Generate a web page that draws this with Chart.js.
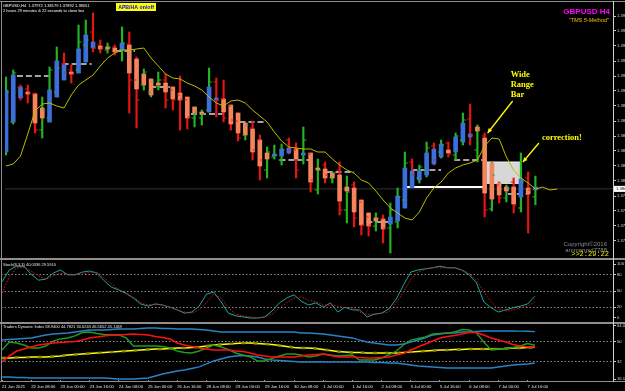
<!DOCTYPE html>
<html>
<head>
<meta charset="utf-8">
<title>GBPUSD H4</title>
<script src="https://cdn.jsdelivr.net/npm/chart.js"></script>
<style>
  html, body { margin: 0; padding: 0; background: #000; }
  #wrap { position: relative; width: 625px; height: 391px; overflow: hidden; background: #000; }
  #wrap canvas { position: absolute; left: 0; }
  .rule { position: absolute; background: #8e8e8e; }
</style>
</head>
<body>
<div id="wrap">
  <canvas id="mainChart" width="650" height="265" style="top:0"></canvas>
  <canvas id="stochChart" width="650" height="70" style="top:255px"></canvas>
  <canvas id="tdiChart" width="650" height="72" style="top:319px"></canvas>
  <div class="rule" style="left:0;top:1px;width:625px;height:1px"></div>
  <div class="rule" style="left:0;top:258px;width:625px;height:2px"></div>
  <div class="rule" style="left:0;top:322px;width:625px;height:2px"></div>
  <div class="rule" style="left:0;top:381px;width:625px;height:1px"></div>
  <div class="rule" style="left:1px;top:1px;width:1px;height:381px"></div>
  <div class="rule" style="left:613px;top:1px;width:1px;height:381px;background:#cfcfcf"></div>
</div>
<script>
// time axis, one label every 4 bars (H4)
const xLabels = ['21 Jun 2021', '22 Jun 08:00', '23 Jun 00:00', '23 Jun 16:00', '24 Jun 08:00',
  '25 Jun 00:00', '25 Jun 16:00', '28 Jun 08:00', '29 Jun 00:00', '29 Jun 16:00', '30 Jun 08:00',
  '1 Jul 00:00', '1 Jul 16:00', '2 Jul 08:00', '5 Jul 00:00', '5 Jul 16:00', '6 Jul 08:00',
  '7 Jul 00:00', '7 Jul 16:00'];
const xLabelStep = 4;

const priceTicks = [1.3978, 1.3963, 1.3948, 1.3933, 1.3918, 1.3903, 1.3888, 1.3873,
  1.3858, 1.3843, 1.3828, 1.3813, 1.3798, 1.3783, 1.3768, 1.3753];

// plain OHLC bars
const high = [1.3917, 1.3924, 1.3909, 1.3909, 1.3901, 1.3897, 1.3927, 1.3947, 1.3941, 1.3929,
  1.3969, 1.3974, 1.3981, 1.3954, 1.3951, 1.3949, 1.3967, 1.3962, 1.3937, 1.3925,
  1.3915, 1.3922, 1.3920, 1.3907, 1.3918, 1.3897, 1.3887, 1.3884, 1.3926, 1.3916,
  1.3914, 1.3889, 1.3881, 1.3871, 1.3873, 1.3859, 1.3847, 1.3849, 1.3850, 1.3856,
  1.3851, 1.3867, 1.3841, 1.3835, 1.3832, 1.3822, 1.3832, 1.3818, 1.3812, 1.3794,
  1.3781, 1.3781, 1.3779, 1.3791, 1.3806, 1.3842, 1.3835, 1.3829, 1.3852, 1.3851,
  1.3854, 1.3852, 1.3861, 1.3881, 1.3890, 1.3869, 1.3861, 1.3832, 1.3812, 1.3809,
  1.3816, 1.3841, 1.3822, 1.38179];
const low = [1.3839, 1.3870, 1.3894, 1.3891, 1.3861, 1.3856, 1.3872, 1.3897, 1.3914, 1.3911,
  1.3921, 1.3932, 1.3942, 1.3941, 1.3941, 1.3939, 1.3933, 1.3881, 1.3866, 1.3904,
  1.3897, 1.3904, 1.3886, 1.3884, 1.3864, 1.3865, 1.3867, 1.3869, 1.3882, 1.3877,
  1.3872, 1.3864, 1.3853, 1.3854, 1.3834, 1.3814, 1.3816, 1.3835, 1.3829, 1.3840,
  1.3816, 1.3830, 1.3802, 1.3800, 1.3811, 1.3811, 1.3779, 1.3771, 1.3767, 1.3759,
  1.3758, 1.3763, 1.3751, 1.3741, 1.3766, 1.3786, 1.3807, 1.3811, 1.3817, 1.3829,
  1.3836, 1.3837, 1.3834, 1.3849, 1.3849, 1.3832, 1.3777, 1.3783, 1.3791, 1.3792,
  1.3781, 1.3782, 1.3761, 1.37892];
const open = [1.3844, 1.3872, 1.3907, 1.3905, 1.3900, 1.3864, 1.3876, 1.3902, 1.3930, 1.3924,
  1.3924, 1.3949, 1.3962, 1.3949, 1.3944, 1.3947, 1.3944, 1.3950, 1.3914, 1.3909,
  1.3902, 1.3908, 1.3914, 1.3904, 1.3899, 1.3894, 1.3876, 1.3876, 1.3884, 1.3912,
  1.3895, 1.3888, 1.3873, 1.3859, 1.3866, 1.3854, 1.3824, 1.3837, 1.3834, 1.3854,
  1.3844, 1.3834, 1.3840, 1.3804, 1.3829, 1.3816, 1.3824, 1.3784, 1.3809, 1.3792,
  1.3777, 1.3768, 1.3775, 1.3766, 1.3772, 1.3794, 1.3832, 1.3816, 1.3824, 1.3848,
  1.3842, 1.3851, 1.3839, 1.3854, 1.3875, 1.3844, 1.3858, 1.3785, 1.3809, 1.3796,
  1.3812, 1.3786, 1.3816, 1.37972];
const close = [1.3902, 1.3921, 1.3897, 1.3901, 1.3864, 1.3884, 1.3924, 1.3926, 1.3921, 1.3920,
  1.3952, 1.3954, 1.3946, 1.3946, 1.3947, 1.3942, 1.3951, 1.3914, 1.3894, 1.3922,
  1.3912, 1.3914, 1.3894, 1.3894, 1.3895, 1.3877, 1.3882, 1.3880, 1.3912, 1.3894,
  1.3876, 1.3874, 1.3856, 1.3869, 1.3844, 1.3834, 1.3842, 1.3839, 1.3844, 1.3844,
  1.3824, 1.3854, 1.3814, 1.3824, 1.3819, 1.3821, 1.3784, 1.3802, 1.3776, 1.3769,
  1.3769, 1.3776, 1.3766, 1.3784, 1.3797, 1.3831, 1.3819, 1.3827, 1.3846, 1.3834,
  1.3849, 1.3840, 1.3858, 1.3874, 1.3859, 1.3864, 1.3784, 1.3819, 1.3796, 1.3806,
  1.3789, 1.3812, 1.3804, 1.38051];

// heiken ashi bodies
const haOpen = [1.3842, 1.3872, 1.3896, 1.3902, 1.3900, 1.3886, 1.3872, 1.3897, 1.3914, 1.3922,
  1.3921, 1.3932, 1.3946, 1.3948, 1.3947, 1.3946, 1.3944, 1.3949, 1.3935, 1.3920,
  1.3915, 1.3911, 1.3911, 1.3907, 1.3901, 1.3897, 1.3887, 1.3882, 1.3882, 1.3894,
  1.3895, 1.3889, 1.3881, 1.3871, 1.3865, 1.3854, 1.3841, 1.3838, 1.3838, 1.3841,
  1.3845, 1.3839, 1.3841, 1.3826, 1.3825, 1.3821, 1.3819, 1.3807, 1.3806, 1.3794,
  1.3781, 1.3776, 1.3775, 1.3770, 1.3773, 1.3786, 1.3806, 1.3814, 1.3819, 1.3830,
  1.3837, 1.3844, 1.3842, 1.3852, 1.3857, 1.3867, 1.3856, 1.3831, 1.3811, 1.3807,
  1.3807, 1.3797, 1.3806, 1.3804];
const haClose = [1.3904, 1.3919, 1.3907, 1.3900, 1.3871, 1.3876, 1.3904, 1.3933, 1.3929, 1.3920,
  1.3945, 1.3959, 1.3952, 1.3945, 1.3945, 1.3942, 1.3951, 1.3921, 1.3905, 1.3909,
  1.3899, 1.3909, 1.3902, 1.3895, 1.3894, 1.3876, 1.3881, 1.3880, 1.3907, 1.3896,
  1.3882, 1.3870, 1.3861, 1.3859, 1.3842, 1.3828, 1.3835, 1.3840, 1.3845, 1.3846,
  1.3835, 1.3841, 1.3812, 1.3824, 1.3816, 1.3816, 1.3793, 1.3803, 1.3782, 1.3769,
  1.3768, 1.3773, 1.3765, 1.3777, 1.3798, 1.3826, 1.3823, 1.3823, 1.3841, 1.3845,
  1.3850, 1.3841, 1.3857, 1.3871, 1.3860, 1.3863, 1.3801, 1.3795, 1.3799, 1.3803,
  1.3790, 1.3815, 1.3800, 1.3807];

// shifted moving average (runs 3 bars past the last candle)
const maLine = [1.3828, 1.3830, 1.3838, 1.3860, 1.3883, 1.3890, 1.3891, 1.3888, 1.3886, 1.3899,
  1.3909, 1.3914, 1.3919, 1.3928, 1.3936, 1.3941, 1.3944, 1.3944, 1.3945, 1.3946,
  1.3936, 1.3928, 1.3920, 1.3916, 1.3915, 1.3911, 1.3908, 1.3904, 1.3897, 1.3891,
  1.3888, 1.3893, 1.3894, 1.3891, 1.3884, 1.3878, 1.3872, 1.3862, 1.3853, 1.3847,
  1.3846, 1.3845, 1.3845, 1.3842, 1.3842, 1.3835, 1.3829, 1.3824, 1.3821, 1.3814,
  1.3811, 1.3803, 1.3794, 1.3786, 1.3781, 1.3776, 1.3774, 1.3782, 1.3796, 1.3806,
  1.3812, 1.3821, 1.3826, 1.3829, 1.3831, 1.3834, 1.3848, 1.3856, 1.3855, 1.3837,
  1.3824, 1.3816, 1.3811, 1.3805, 1.3807, 1.3804, 1.3805];

// dashed grey levels: [from bar, to bar, price]
const pivotSegments = [[1.5, 5.9, 1.3918], [7.8, 11.8, 1.3930], [15.1, 17.8, 1.3943],
  [19.9, 22.6, 1.3907], [25.5, 29.9, 1.3880], [32.2, 35.8, 1.3872], [37.7, 41.8, 1.3834],
  [44.2, 48.0, 1.3822], [49.7, 52.7, 1.3772], [55.9, 60.0, 1.3824], [61.8, 65.8, 1.3834],
  [69.2, 71.9, 1.3800]];
const whiteLevel = [55.2, 66.2, 1.3807];
const rangeBox = [66.2, 71.0, 1.3832, 1.3810];

// Stochastic
const stochMain = [67, 89, 96, 96, 81, 70, 72, 83, 89, 80, 80, 85, 87, 83, 69, 57, 52, 46, 37, 26,
  22, 26, 24, 20, 15, 9, 11, 22, 44, 48, 30, 9, 4, 2, 0, 0, 2, 13, 28, 37,
  43, 31, 24, 28, 20, 28, 11, 20, 15, 15, 2, 7, 9, 17, 35, 61, 85, 89, 91, 93,
  96, 93, 93, 89, 80, 65, 30, 19, 11, 15, 19, 22, 26, 40];
const stochSignal = [46, 76, 93, 94, 87, 78, 72, 78, 83, 81, 80, 81, 85, 85, 74, 63, 52, 44, 39, 28,
  24, 26, 24, 20, 15, 11, 9, 15, 28, 44, 37, 19, 7, 4, 2, 0, 2, 7, 19, 28,
  37, 39, 33, 30, 24, 24, 22, 19, 19, 11, 7, 7, 9, 11, 28, 48, 72, 85, 91, 93,
  93, 93, 93, 89, 83, 70, 48, 30, 17, 13, 15, 19, 22, 29.6];
const stochTicks = [100, 80, 50, 20, 0];
const stochLevels = [80, 50, 20];

// Traders Dynamic Index
const tdiUpper = [51.3, 51.8, 52.3, 52.7, 53.2, 54.5, 55.9, 56.8, 57.2, 57.7,
  58.6, 59.5, 60.4, 60.4, 60.4, 60.8, 61.3, 61.3, 61.3, 61.7,
  62.2, 62.2, 61.7, 61.7, 61.3, 61.3, 61.3, 60.8, 60.4, 59.5,
  58.6, 58.6, 58.6, 58.6, 58.6, 58.6, 58.6, 58.6, 58.6, 58.6,
  58.6, 57.7, 57.7, 57.2, 56.8, 55.9, 55.0, 54.1, 53.2, 51.3,
  49.5, 48.6, 47.7, 46.8, 46.8, 47.7, 49.5, 51.3, 53.2, 55.9,
  56.8, 57.7, 57.7, 58.6, 58.6, 59.0, 59.5, 59.5, 59.5, 59.5,
  59.5, 59.4, 59.2, 58.9];
const tdiLower = [17.9, 17.9, 17.5, 17.5, 17.0, 17.0, 17.0, 17.0, 17.0, 17.0,
  17.0, 17.0, 17.0, 17.0, 17.0, 16.5, 16.1, 16.1, 16.1, 16.5,
  17.0, 18.8, 20.6, 22.0, 23.3, 24.2, 25.6, 27.0, 29.7, 32.4,
  34.2, 36.0, 36.9, 37.3, 36.9, 36.0, 34.2, 33.3, 32.9, 32.4,
  31.9, 31.5, 31.5, 31.5, 31.5, 31.5, 31.5, 31.5, 31.5, 31.5,
  31.5, 31.0, 31.0, 30.6, 30.6, 29.7, 28.8, 27.9, 27.4, 27.0,
  26.5, 26.1, 26.1, 26.1, 26.1, 26.1, 26.1, 26.1, 27.0, 27.9,
  28.8, 29.2, 29.7, 30.6];
const tdiMiddle = [35.1, 35.1, 35.5, 35.5, 36.0, 36.0, 36.0, 36.4, 36.9, 37.8,
  38.2, 38.7, 39.1, 39.6, 40.1, 40.5, 41.0, 41.4, 41.9, 42.3,
  42.8, 43.2, 43.2, 43.7, 44.1, 44.1, 44.6, 45.0, 45.9, 46.8,
  47.3, 47.7, 48.2, 48.6, 48.6, 48.2, 47.7, 47.3, 46.4, 45.5,
  44.6, 44.1, 44.1, 43.7, 42.8, 41.9, 41.0, 40.5, 40.1, 40.1,
  39.6, 39.6, 39.6, 39.6, 39.6, 40.1, 40.5, 41.0, 41.4, 41.9,
  42.3, 42.3, 42.8, 42.8, 43.2, 43.2, 43.2, 43.2, 43.2, 43.7,
  44.1, 44.1, 44.6, 44.8];
const tdiSignal = [31.5, 36.9, 41.4, 43.2, 45.0, 46.8, 47.7, 48.6, 49.1, 49.5,
  50.0, 51.3, 53.2, 54.1, 55.0, 55.9, 55.9, 56.3, 56.8, 56.3,
  55.9, 54.5, 53.6, 52.3, 48.6, 46.8, 45.5, 44.1, 43.2, 42.3,
  42.3, 42.3, 41.4, 41.0, 39.6, 37.8, 36.9, 36.0, 36.0, 36.0,
  36.0, 36.9, 37.8, 38.2, 38.7, 37.3, 36.0, 36.0, 36.0, 35.5,
  35.1, 35.1, 35.5, 36.0, 37.8, 39.1, 42.3, 45.0, 47.7, 50.4,
  53.2, 54.5, 55.4, 56.8, 58.1, 58.1, 55.9, 53.2, 51.3, 49.5,
  47.3, 45.9, 45.0, 45.1];
const tdiRsi = [42.3, 49.5, 48.6, 46.8, 44.1, 44.1, 45.9, 50.4, 52.3, 53.2,
  55.0, 58.1, 58.6, 57.2, 56.3, 55.9, 55.9, 53.2, 45.9, 45.9,
  45.9, 45.9, 45.5, 44.1, 41.4, 40.1, 39.6, 41.4, 44.1, 46.8,
  45.0, 42.8, 39.6, 37.8, 36.0, 32.4, 32.4, 34.7, 36.9, 38.7,
  38.7, 37.8, 36.0, 36.9, 38.7, 37.8, 36.9, 37.3, 37.8, 33.3,
  33.3, 33.3, 35.1, 37.8, 41.4, 46.8, 51.3, 52.7, 54.1, 56.8,
  57.2, 57.7, 58.6, 60.8, 60.4, 57.7, 49.5, 42.3, 43.2, 43.7,
  44.6, 45.9, 48.2, 46.6];
const tdiTicks = [64.0, 50, 32, 16.1];
const tdiLevels = [50, 32];

const xMin = -0.14, xMax = 83.7;
const sans = '"Liberation Sans", Arial, sans-serif';
const serif = '"Liberation Serif", "Times New Roman", serif';

const pts = arr => arr.map((v, i) => ({ x: i, y: v }));
const flat = { pointRadius: 0, pointHoverRadius: 0 };
const common = {
  responsive: false, animation: false, devicePixelRatio: 1, events: [],
  plugins: { legend: { display: false }, tooltip: { enabled: false } }
};
const fixWidth = s => { s.width = 37; };

function arrow(ctx, x1, y1, x2, y2) {
  const a = Math.atan2(y2 - y1, x2 - x1), h = 5;
  ctx.beginPath(); ctx.moveTo(x1, y1); ctx.lineTo(x2, y2); ctx.stroke();
  ctx.beginPath(); ctx.moveTo(x2, y2);
  ctx.lineTo(x2 - h * Math.cos(a - 0.45), y2 - h * Math.sin(a - 0.45));
  ctx.lineTo(x2 - h * Math.cos(a + 0.45), y2 - h * Math.sin(a + 0.45));
  ctx.closePath(); ctx.fill();
}

const mainDecor = {
  id: 'mainDecor',
  afterDraw(chart) {
    const { ctx, chartArea, scales: { x, y } } = chart;
    ctx.save();
    // header
    ctx.textBaseline = 'middle';
    ctx.fillStyle = '#ffffff';
    ctx.font = '4px ' + sans;
    ctx.fillText('GBPUSD,H4  1.37972 1.38179 1.37892 1.38051', 3, 5.5);
    ctx.fillText('2 hours 29 minutes & 22 seconds to close bar', 3, 11);
    ctx.fillStyle = '#ffff00';
    ctx.fillRect(116, 3, 40, 8);
    ctx.fillStyle = '#0000ff';
    ctx.font = 'bold 5.2px ' + sans;
    ctx.textAlign = 'center';
    ctx.fillText('APB/HA on/off', 136, 7.2);
    ctx.textAlign = 'right';
    ctx.fillStyle = '#ff00ff';
    ctx.font = 'bold 8px ' + sans;
    ctx.fillText('GBPUSD H4', 610, 11.5);
    ctx.fillStyle = '#e8c000';
    ctx.font = 'italic 5.5px ' + sans;
    ctx.fillText('"TMS 5-Method"', 609, 20.5);
    ctx.fillStyle = '#8a8a8a';
    ctx.font = '6px ' + sans;
    ctx.fillText('Copyright\u00a92016', 607, 244);
    ctx.fillText('ammarusd7788', 607, 250);
    ctx.fillStyle = '#e6e600';
    ctx.font = '7px "Liberation Mono", monospace';
    ctx.fillText('>>2:29:22', 609, 254.5);
    ctx.textAlign = 'left';

    // annotations
    ctx.strokeStyle = '#ffff00';
    ctx.fillStyle = '#ffff00';
    ctx.lineWidth = 1.3;
    const t1x = x.getPixelForValue(66) + 3, t1y = y.getPixelForValue(high[66]);
    arrow(ctx, t1x + 25, t1y - 32, t1x, t1y);
    const t2x = x.getPixelForValue(rangeBox[1]) + 2, t2y = y.getPixelForValue(rangeBox[2]);
    arrow(ctx, t2x + 16, t2y - 19, t2x, t2y);
    ctx.font = 'bold 8.5px ' + serif;
    ctx.textBaseline = 'alphabetic';
    ['Wide', 'Range', 'Bar'].forEach((w, k) => ctx.fillText(w, t1x + 23, t1y - 56 + k * 10));
    ctx.fillText('correction!', t2x + 19, t2y - 22);

    // current price box
    const last = close[close.length - 1];
    const py = y.getPixelForValue(last);
    ctx.fillStyle = '#ffffff';
    ctx.fillRect(chartArea.right + 1, py - 3, 40, 6);
    ctx.fillStyle = '#000000';
    ctx.font = '4.2px ' + sans;
    ctx.textBaseline = 'middle';
    ctx.fillText(last.toFixed(5), chartArea.right + 3, py + 0.3);
    ctx.restore();
  }
};

const panelTitle = (text, dy) => ({
  id: 'panelTitle',
  afterDraw(chart) {
    const { ctx, chartArea } = chart;
    ctx.save();
    ctx.font = '4px ' + sans;
    ctx.fillStyle = '#e6e6e6';
    ctx.textBaseline = 'middle';
    ctx.fillText(text, chartArea.left + 2, chartArea.top + dy);
    ctx.restore();
  }
});

const wickColor = high.map((_, i) => close[i] >= open[i] ? '#22b422' : '#e61414');
const bodyColor = haOpen.map((o, i) => haClose[i] >= o ? '#3d6fda' : '#f5845c');

const mainSets = [
  { type: 'line', label: 'ma', data: pts(maLine), borderColor: '#bcbc00', borderWidth: 1, ...flat, order: 1 },
  { type: 'line', label: 'open', data: open.map((v, i) => ({ x: i - 0.22, y: v })), showLine: false,
    pointStyle: 'line', pointRadius: 1.4, pointBorderWidth: 1, pointBorderColor: wickColor, order: 3 },
  { type: 'line', label: 'close', data: close.map((v, i) => ({ x: i + 0.22, y: v })), showLine: false,
    pointStyle: 'line', pointRadius: 1.4, pointBorderWidth: 1, pointBorderColor: wickColor, order: 3 },
  { type: 'bar', label: 'body', data: haOpen.map((o, i) => ({ x: i, y: [o, haClose[i]] })),
    backgroundColor: bodyColor, barThickness: 4, minBarLength: 1.5, grouped: false, order: 4 },
  { type: 'bar', label: 'wick', data: high.map((h, i) => ({ x: i, y: [low[i], h] })),
    backgroundColor: wickColor, barThickness: 1.5, grouped: false, order: 5 },
  { type: 'line', label: 'level', data: [{ x: whiteLevel[0], y: whiteLevel[2] }, { x: whiteLevel[1], y: whiteLevel[2] }],
    borderColor: '#ffffff', borderWidth: 2, ...flat, order: 8 },
  ...pivotSegments.map(s => ({ type: 'line', data: [{ x: s[0], y: s[2] }, { x: s[1], y: s[2] }],
    borderColor: '#a4a4a4', borderWidth: 2, borderDash: [6, 3], ...flat, order: 9 })),
  { type: 'line', label: 'bid', data: [{ x: xMin, y: close[close.length - 1] }, { x: xMax, y: close[close.length - 1] }],
    borderColor: '#333333', borderWidth: 1, ...flat, order: 12 },
  { type: 'line', label: 'box', data: [{ x: rangeBox[0], y: rangeBox[2] }, { x: rangeBox[1], y: rangeBox[2] }],
    fill: { value: rangeBox[3] }, backgroundColor: '#d7d7d7', borderColor: '#efefef', borderWidth: 1, ...flat, order: 20 }
];

new Chart(document.getElementById('mainChart'), {
  type: 'bar',
  data: { datasets: mainSets },
  options: {
    ...common,
    layout: { padding: { left: 1, top: 5, bottom: 8, right: 0 } },
    scales: {
      x: { type: 'linear', min: xMin, max: xMax, offset: false, display: false, grid: { offset: false } },
      y: {
        position: 'right', min: 1.3737, max: 1.3989, afterFit: fixWidth,
        afterBuildTicks: s => { s.ticks = priceTicks.map(v => ({ value: v })); },
        ticks: { color: '#d6d6d6', font: { size: 4.2, family: sans }, padding: 1, callback: v => v.toFixed(5) },
        grid: { drawOnChartArea: false, tickLength: 3, tickColor: '#c8c8c8' },
        border: { display: false }
      }
    }
  },
  plugins: [mainDecor]
});

new Chart(document.getElementById('stochChart'), {
  type: 'line',
  data: {
    datasets: [
      { data: pts(stochSignal), borderColor: '#d41818', borderWidth: 1, borderDash: [1.5, 1.5], ...flat },
      { data: pts(stochMain), borderColor: '#22a3a3', borderWidth: 1, ...flat }
    ]
  },
  options: {
    ...common,
    layout: { padding: { left: 1, top: 6, bottom: 4, right: 0 } },
    scales: {
      x: { type: 'linear', min: xMin, max: xMax, display: false },
      y: {
        position: 'right', min: -5.56, max: 105.56, afterFit: fixWidth,
        afterBuildTicks: s => { s.ticks = stochTicks.map(v => ({ value: v })); },
        ticks: { color: '#d6d6d6', font: { size: 4.2, family: sans }, padding: 1 },
        grid: { color: c => stochLevels.includes(c.tick && c.tick.value) ? '#8a8a8a' : 'rgba(0,0,0,0)',
          tickLength: 3, tickColor: '#c8c8c8' },
        border: { display: false, dash: [1.5, 2] }
      }
    }
  },
  plugins: [panelTitle('Stoch(8,3,3) 40.0336 29.5910', 3.5)]
});

new Chart(document.getElementById('tdiChart'), {
  type: 'line',
  data: {
    datasets: [
      { data: pts(tdiSignal), borderColor: '#ff1010', borderWidth: 1.6, ...flat },
      { data: pts(tdiRsi), borderColor: '#1f9c1f', borderWidth: 1.4, ...flat },
      { data: pts(tdiMiddle), borderColor: '#8c8c12', borderWidth: 2.4, borderDash: [4, 8], ...flat },
      { data: pts(tdiMiddle), borderColor: '#ffff00', borderWidth: 1.5, ...flat },
      { data: pts(tdiUpper), borderColor: '#2784c6', borderWidth: 1.4, ...flat },
      { data: pts(tdiLower), borderColor: '#2784c6', borderWidth: 1.4, ...flat }
    ]
  },
  options: {
    ...common,
    layout: { padding: { left: 1, top: 6, bottom: 0, right: 0 } },
    scales: {
      x: {
        type: 'linear', min: xMin, max: xMax, position: 'bottom',
        afterBuildTicks: s => { s.ticks = xLabels.map((_, k) => ({ value: k * xLabelStep })); },
        afterFit: s => { s.height = 11; },
        ticks: { autoSkip: false, maxRotation: 0, align: 'start', color: '#e2e2e2', padding: 2,
          font: { size: 4.2, family: sans }, callback: (v, i) => xLabels[i] },
        grid: { drawOnChartArea: false, tickLength: 2, tickColor: '#a0a0a0' },
        border: { display: false }
      },
      y: {
        position: 'right', min: 15.2, max: 64.9, afterFit: fixWidth,
        afterBuildTicks: s => { s.ticks = tdiTicks.map(v => ({ value: v })); },
        ticks: { color: '#d6d6d6', font: { size: 4.2, family: sans }, padding: 1,
          callback: v => (v === 64 ? '64.0' : String(v)) },
        grid: { color: c => tdiLevels.includes(c.tick && c.tick.value) ? '#8a8a8a' : 'rgba(0,0,0,0)',
          tickLength: 3, tickColor: '#c8c8c8' },
        border: { display: false, dash: [1.5, 2] }
      }
    }
  },
  plugins: [panelTitle('Traders Dynamic Index 58.9400 44.7821 30.6243 46.5652 45.1469', 2)]
});
</script>
</body>
</html>
